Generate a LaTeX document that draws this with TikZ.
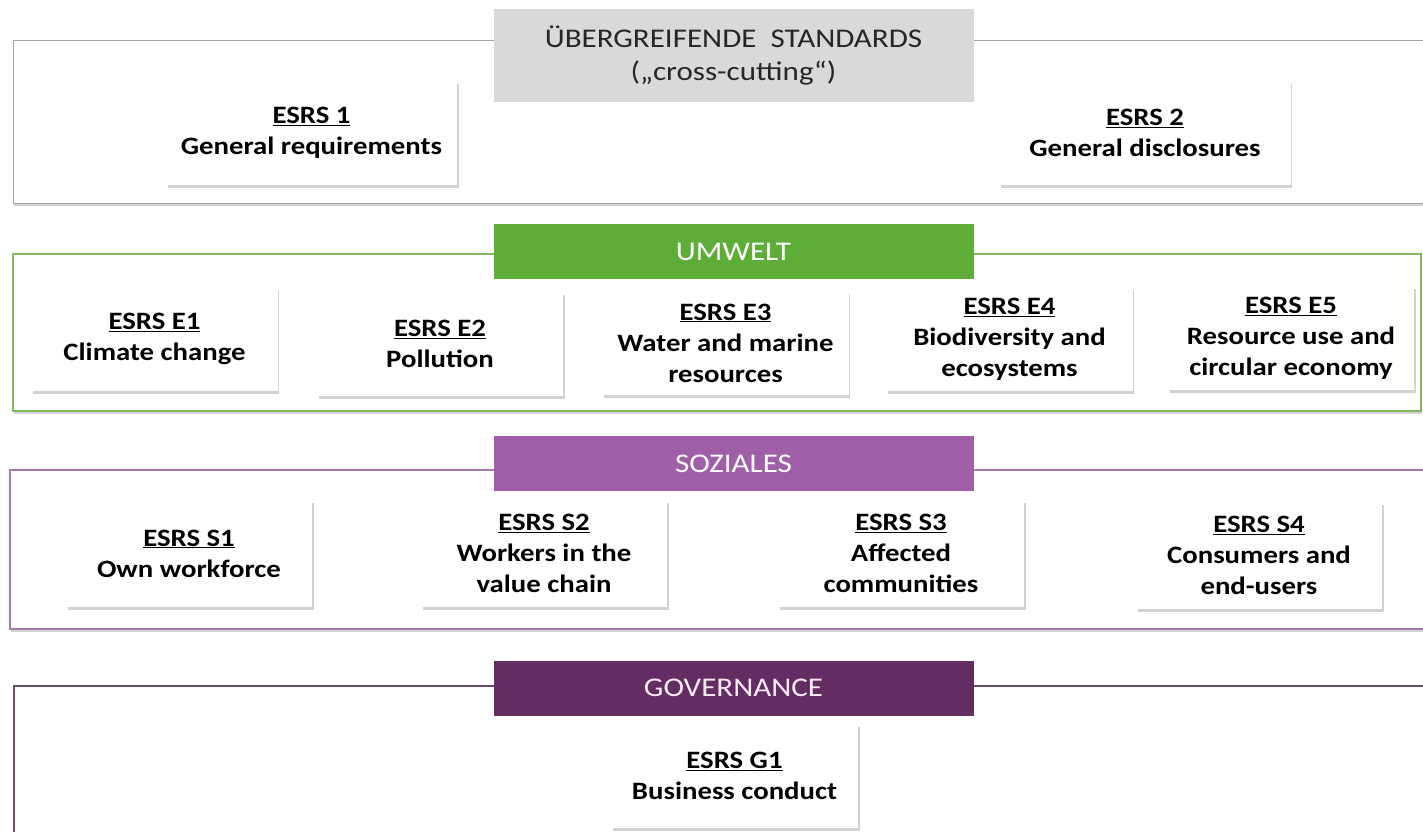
\documentclass[tikz,border=0pt]{standalone}
\usepackage{fontspec}
\setmainfont{Carlito}[FakeStretch=1.15]
\usetikzlibrary{shadows}
\definecolor{crossgray}{HTML}{D9D9D9}
\definecolor{crossline}{HTML}{A6A6A6}
\definecolor{envgreen}{HTML}{5DAD38}
\definecolor{envline}{HTML}{7FBA5A}
\definecolor{socpurple}{HTML}{A05DA8}
\definecolor{socline}{HTML}{A87AAE}
\definecolor{govpurple}{HTML}{632D63}
\definecolor{govline}{HTML}{6A4A6C}

\begin{document}
\begin{tikzpicture}[x=1pt,y=-1pt,
    frame/.style={fill=white,line width=1.5pt,drop shadow={shadow xshift=1pt,shadow yshift=-2.5pt,opacity=0.35}},
    header/.style={minimum width=480pt,minimum height=55pt,inner sep=0pt,align=center,font=\fontsize{27}{33}\selectfont},
    esrs/.style={fill=white,minimum width=246pt,minimum height=104pt,inner sep=0pt,align=center,font=\fontsize{25}{31}\selectfont\bfseries,drop shadow={shadow xshift=1.5pt,shadow yshift=-3pt,opacity=0.35}}]
    \useasboundingbox (0,0) rectangle (1423,831);
    \clip (0,0) rectangle (1423,831);

    \draw[frame,draw=crossline,line width=1pt] (13,40) rectangle (1440,203);
    \node[header,fill=crossgray,text=black!85,minimum height=93pt] (cross) at (733.5,55.5) {ÜBERGREIFENDE\ \ STANDARDS\\(„cross-cutting“)};
    \node[esrs,minimum width=291pt] (esrs1) at (311.5,133) {\underline{ESRS 1}\\General requirements};
    \node[esrs,minimum width=291pt] (esrs2) at (1145,133) {\underline{ESRS 2}\\General disclosures};

    \draw[frame,draw=envline] (13,254) rectangle (1421,411);
    \node[header,fill=envgreen,text=white] (env) at (733.5,251.5) {UMWELT};
    \node[esrs] (e1) at (154.5,339) {\underline{ESRS E1}\\Climate change};
    \node[esrs] (e2) at (440,344) {\underline{ESRS E2}\\Pollution};
    \node[esrs] (e3) at (725.5,343) {\underline{ESRS E3}\\Water and marine\\resources};
    \node[esrs] (e4) at (1009.5,339) {\underline{ESRS E4}\\Biodiversity and\\ecosystems};
    \node[esrs] (e5) at (1291,338) {\underline{ESRS E5}\\Resource use and\\circular economy};

    \draw[frame,draw=socline] (10,470) rectangle (1440,629);
    \node[header,fill=socpurple,text=white] (soc) at (733.5,463.5) {SOZIALES};
    \node[esrs,minimum height=107pt] (s1) at (189,553.5) {\underline{ESRS S1}\\Own workforce};
    \node[esrs,minimum height=107pt] (s2) at (544,553.5) {\underline{ESRS S2}\\Workers in the\\value chain};
    \node[esrs,minimum height=107pt] (s3) at (901,553.5) {\underline{ESRS S3}\\Affected\\communities};
    \node[esrs,minimum height=107pt] (s4) at (1259,555.5) {\underline{ESRS S4}\\Consumers and\\end-users};

    \draw[frame,draw=govline] (14,686) rectangle (1440,900);
    \node[header,fill=govpurple,text=white!92!magenta] (gov) at (733.5,688) {GOVERNANCE};
    \node[esrs,minimum width=247pt] (g1) at (734.5,776) {\underline{ESRS G1}\\Business conduct};
\end{tikzpicture}
\end{document}
